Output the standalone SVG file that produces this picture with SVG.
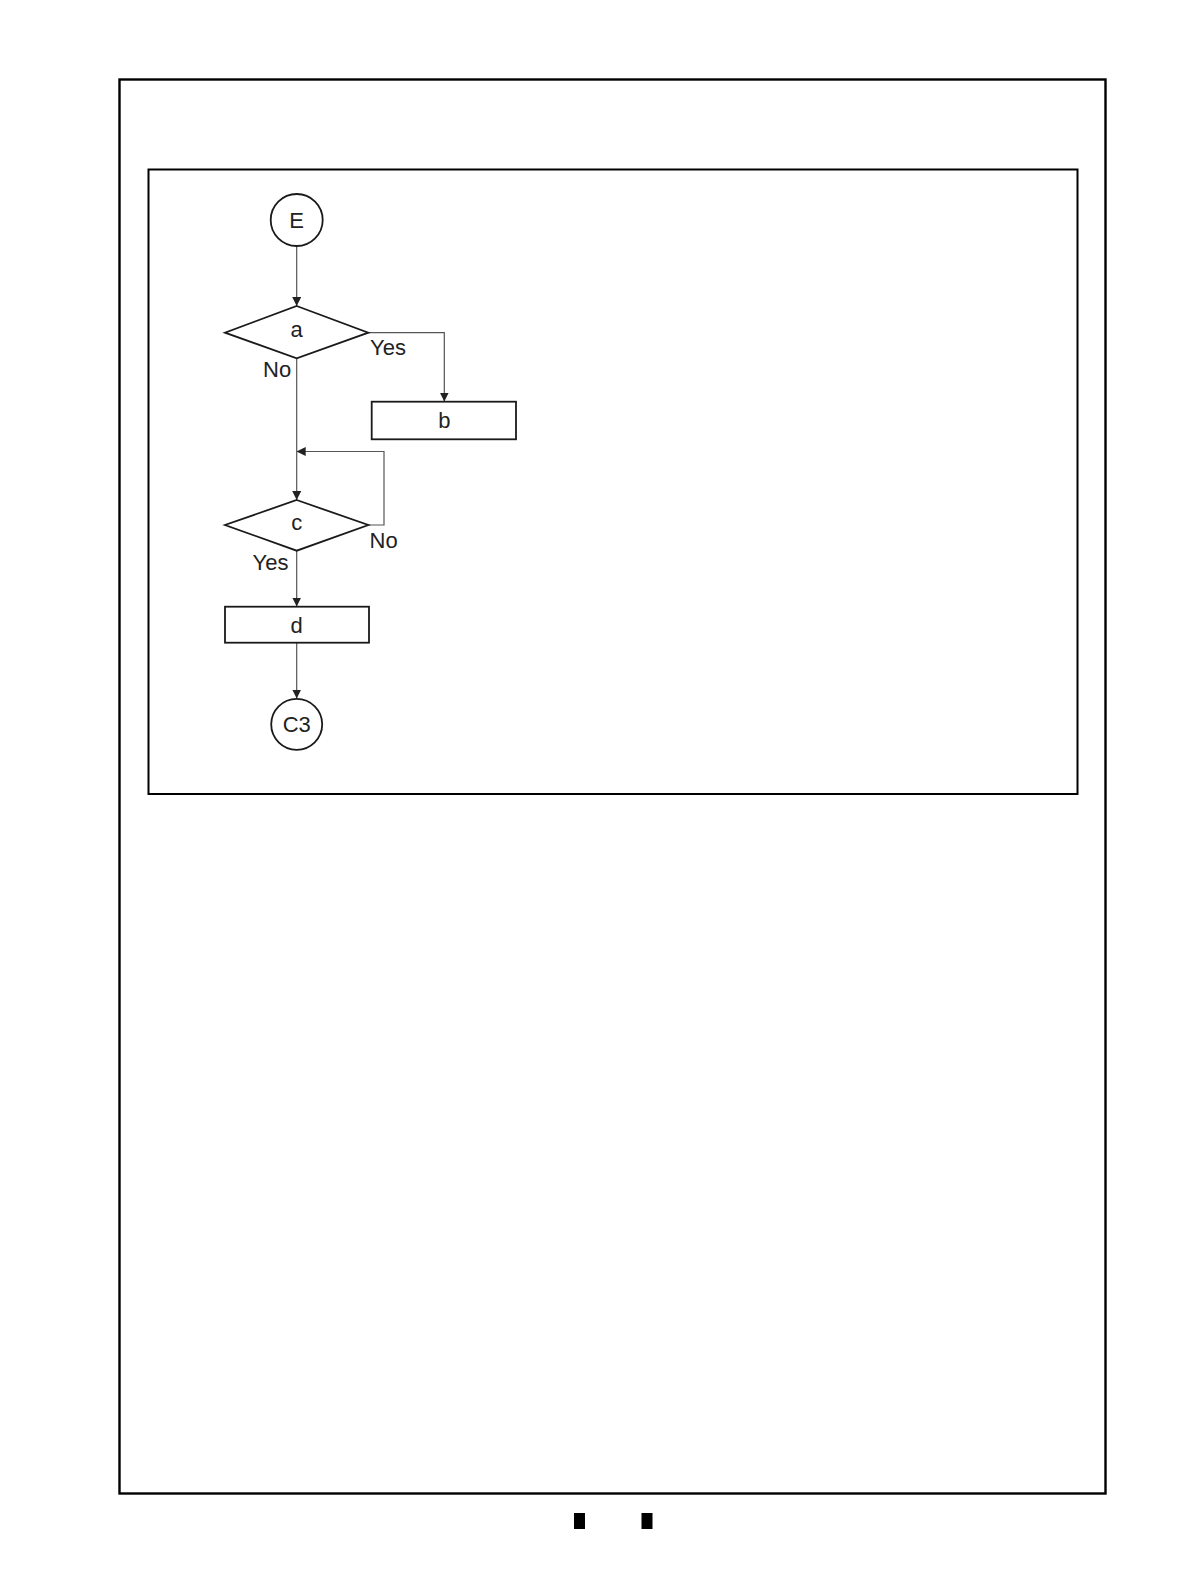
<svg xmlns="http://www.w3.org/2000/svg" width="1190" height="1584" viewBox="0 0 1190 1584">
<defs>
<style>
.frame{fill:none;stroke:#000;}
.shape{fill:#fff;stroke:#1a1a1a;stroke-width:1.8;}
.conn{fill:none;stroke:#555;stroke-width:1.2;}
.t{font-family:"Liberation Sans",Arial,sans-serif;font-size:22px;fill:#222;}
.c{text-anchor:middle;}
</style>
<marker id="arr" viewBox="0 0 10 10" refX="10" refY="5" markerWidth="9" markerHeight="9" markerUnits="userSpaceOnUse" orient="auto">
<path d="M0,0 L10,5 L0,10 z" fill="#222"/>
</marker>
</defs>
<rect x="0" y="0" width="1190" height="1584" fill="#fff"/>
<rect class="frame" x="119.5" y="79.5" width="986" height="1414" stroke-width="2.4"/>
<rect class="frame" x="148.5" y="169.5" width="929" height="624.5" stroke-width="2"/>
<g id="connectors">
<line class="conn" x1="296.7" y1="246" x2="296.7" y2="306" marker-end="url(#arr)"/>
<polyline class="conn" points="368.3,332.7 444.3,332.7 444.3,401.5" marker-end="url(#arr)"/>
<line class="conn" x1="296.7" y1="358.3" x2="296.7" y2="500" marker-end="url(#arr)"/>
<polyline class="conn" points="368.3,525 384,525 384,451.5 296.7,451.5" marker-end="url(#arr)"/>
<line class="conn" x1="296.7" y1="550.7" x2="296.7" y2="606.5" marker-end="url(#arr)"/>
<line class="conn" x1="296.7" y1="642.7" x2="296.7" y2="698.5" marker-end="url(#arr)"/>
</g>
<g id="node-E">
<circle class="shape" cx="296.7" cy="220" r="26"/>
<text class="t c" x="296.7" y="228">E</text>
</g>
<g id="node-a">
<polygon class="shape" points="296.7,306 368.3,332.7 296.7,358.3 225,332.7"/>
<text class="t c" x="296.7" y="337">a</text>
<text class="t" x="370" y="354.5">Yes</text>
<text class="t" x="263" y="376.5">No</text>
</g>
<g id="node-b">
<rect class="shape" x="371.7" y="401.7" width="144.3" height="37.6"/>
<text class="t c" x="444.3" y="427.5">b</text>
</g>
<g id="node-c">
<polygon class="shape" points="296.7,500 368.3,525 296.7,550.7 225,525"/>
<text class="t c" x="296.7" y="530">c</text>
<text class="t" x="369.5" y="548">No</text>
<text class="t" x="252.5" y="569.5">Yes</text>
</g>
<g id="node-d">
<rect class="shape" x="225" y="606.7" width="144" height="36"/>
<text class="t c" x="296.7" y="632.5">d</text>
</g>
<g id="node-C3">
<circle class="shape" cx="296.7" cy="724.3" r="25.5"/>
<text class="t c" x="296.7" y="732">C3</text>
</g>
<rect x="574" y="1513" width="11" height="16" fill="#000"/>
<rect x="641.5" y="1513" width="11" height="16" fill="#000"/>
</svg>
